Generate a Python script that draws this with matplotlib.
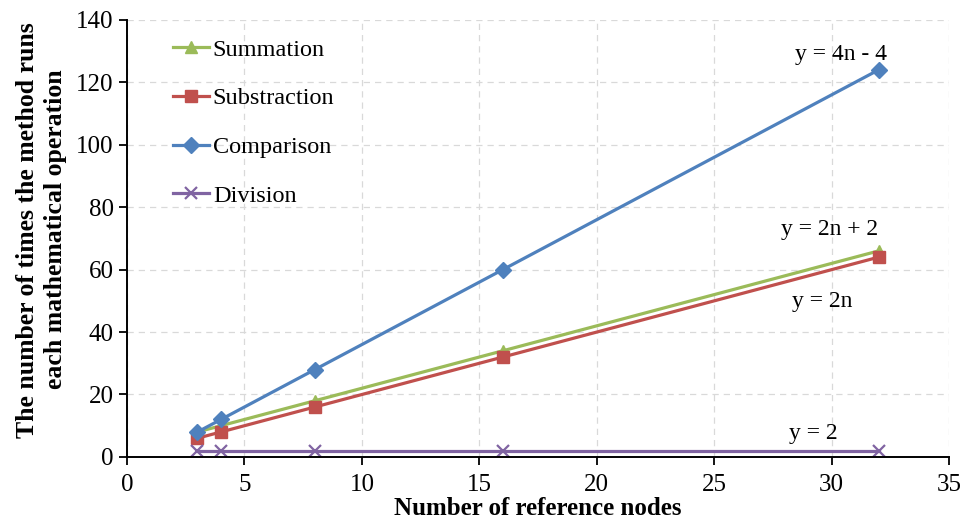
import matplotlib
matplotlib.use("Agg")
import matplotlib.pyplot as plt

plt.rcParams['font.family'] = ['Liberation Serif', 'DejaVu Serif']

# data
nodes = [3, 4, 8, 16, 32]
summation = [8, 10, 18, 34, 66]
subtraction = [6, 8, 16, 32, 64]
comparison = [8, 12, 28, 60, 124]
division = [2, 2, 2, 2, 2]

fig = plt.figure(figsize=(9.66, 5.24), dpi=100)
ax = fig.add_axes([0.1315, 0.128, 0.851, 0.834])

ax.plot(nodes, summation, color='#9BBB59', marker='^', ms=9, lw=2.3, label='Summation')
ax.plot(nodes, subtraction, color='#C0504D', marker='s', ms=8, lw=2.3, label='Substraction')
ax.plot(nodes, comparison, color='#4F81BD', marker='D', ms=8, lw=2.3, label='Comparison')
ax.plot(nodes, division, color='#8064A2', marker='x', ms=8, mew=1.6, lw=2.3, label='Division')

# equation labels
ax.text(30.4, 129.0, 'y = 4n - 4', fontsize=17, ha='center', va='center')
ax.text(29.9, 72.7, 'y = 2n + 2', fontsize=17, ha='center', va='center')
ax.text(29.6, 49.7, 'y = 2n', fontsize=17, ha='center', va='center')
ax.text(29.2, 7.4, 'y = 2', fontsize=17, ha='center', va='center')

ax.set_xlim(0, 35)
ax.set_ylim(0, 140)
ax.set_xticks(range(0, 36, 5))
ax.set_yticks(range(0, 141, 20))
ax.tick_params(labelsize=18, direction='out', length=6, width=1.3, colors='black')
ax.tick_params(axis='x', pad=6)
ax.grid(True, color='#D9D9D9', linestyle=(0, (5, 4)), lw=0.9)
ax.set_axisbelow(True)
for s in ['top', 'right']:
    ax.spines[s].set_visible(False)
for s in ['left', 'bottom']:
    ax.spines[s].set_linewidth(1.4)

ax.set_xlabel('Number of reference nodes', fontsize=18, fontweight='bold', labelpad=1)
ax.set_ylabel('The number of times the method runs\neach mathematical operation',
              fontsize=18.5, fontweight='bold', linespacing=1.25, va='center', ha='center')
ax.yaxis.set_label_coords(-0.104, 0.52)

ax.legend(loc='upper left', bbox_to_anchor=(0.029, 1.007), frameon=False, fontsize=17.5,
          labelspacing=1.1, handlelength=1.5, handletextpad=0.15)

fig.savefig('out.png', dpi=100)
